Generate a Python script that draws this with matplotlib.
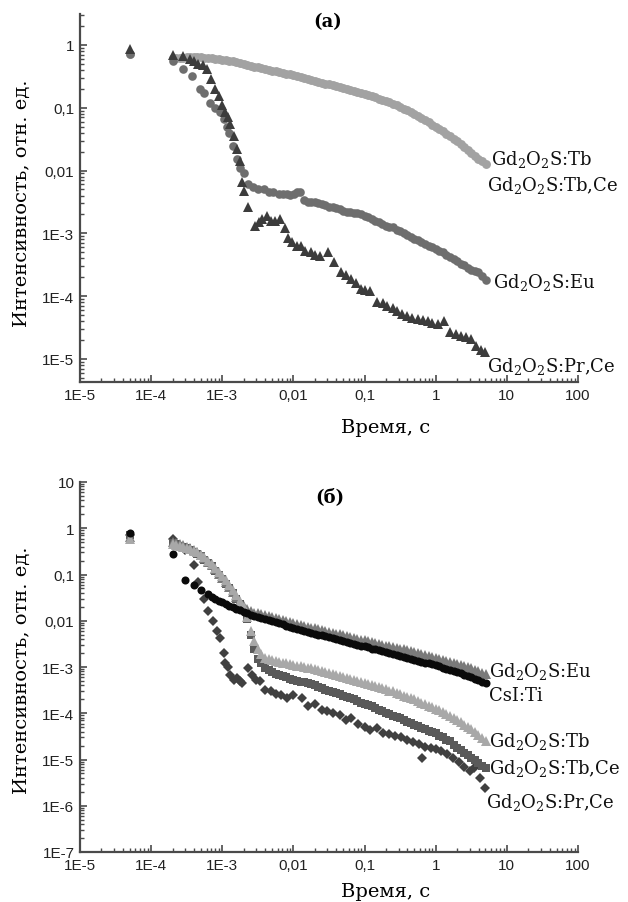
import numpy as np
import matplotlib
matplotlib.use("Agg")
import matplotlib.pyplot as plt
from matplotlib.ticker import LogLocator, NullFormatter

plt.rcParams['mathtext.fontset'] = 'dejavuserif'

# common sampling times of the dense parts of the decay curves, s
t_grid = [2.0e-4, 2.24e-4, 2.51e-4, 2.82e-4, 3.16e-4, 3.55e-4, 3.98e-4, 4.47e-4, 5.01e-4, 5.62e-4,
          6.31e-4, 7.08e-4, 7.94e-4, 8.91e-4,
          1.0e-3, 1.12e-3, 1.26e-3, 1.41e-3, 1.58e-3, 1.78e-3, 2.0e-3, 2.24e-3, 2.51e-3, 2.82e-3,
          3.16e-3, 3.55e-3, 3.98e-3, 4.47e-3, 5.01e-3, 5.62e-3, 6.31e-3, 7.08e-3, 7.94e-3, 8.91e-3,
          1.0e-2, 1.12e-2, 1.26e-2, 1.41e-2, 1.58e-2, 1.78e-2, 2.0e-2, 2.24e-2, 2.51e-2, 2.82e-2,
          3.16e-2, 3.55e-2, 3.98e-2, 4.47e-2, 5.01e-2, 5.62e-2, 6.31e-2, 7.08e-2, 7.94e-2, 8.91e-2,
          0.1, 0.112, 0.126, 0.141, 0.158, 0.178, 0.2, 0.224, 0.251, 0.282,
          0.316, 0.355, 0.398, 0.447, 0.501, 0.562, 0.631, 0.708, 0.794, 0.891,
          1.0, 1.12, 1.26, 1.41, 1.58, 1.78, 2.0, 2.24, 2.51, 2.82, 3.16, 3.55, 3.98, 4.47, 5.01]

# ---------------- panel (a) data ----------------
# Gd2O2S:Tb  (first point at 5e-5 s, then t_grid)
a_tb_x0 = [5e-5]
a_tb_y = [0.72,
          0.62, 0.62, 0.62, 0.625, 0.63, 0.63, 0.63, 0.63, 0.63, 0.625, 0.62, 0.61, 0.60, 0.59,
          0.58, 0.57, 0.56, 0.545, 0.53, 0.51, 0.49, 0.475, 0.46, 0.45,
          0.44, 0.425, 0.41, 0.40, 0.39, 0.38, 0.37, 0.36, 0.35, 0.34,
          0.33, 0.32, 0.31, 0.30, 0.29, 0.28, 0.27, 0.26, 0.25, 0.242,
          0.235, 0.227, 0.22, 0.212, 0.205, 0.197, 0.19, 0.182, 0.175, 0.17,
          0.165, 0.158, 0.152, 0.146, 0.14, 0.133, 0.127, 0.121, 0.115, 0.109,
          0.103, 0.097, 0.091, 0.085, 0.080, 0.074, 0.069, 0.064, 0.059, 0.054,
          0.050, 0.046, 0.042, 0.038, 0.035, 0.032, 0.029, 0.026, 0.024, 0.021, 0.019, 0.017, 0.0155, 0.014, 0.0127]

# Gd2O2S:Eu  (irregular early points, then t_grid from 0.0141 s)
a_eu_x0 = [5e-5, 2.0e-4, 2.8e-4, 3.8e-4, 4.9e-4, 5.6e-4, 6.7e-4, 7.8e-4, 9.3e-4, 1.05e-3, 1.15e-3,
           1.26e-3, 1.4e-3, 1.6e-3, 1.8e-3, 2.0e-3, 2.3e-3, 2.7e-3, 3.2e-3, 3.8e-3, 4.5e-3, 5.2e-3,
           6.3e-3, 7.1e-3, 8.0e-3, 9.0e-3, 1.02e-2, 1.14e-2, 1.24e-2]
a_eu_y = [0.72, 0.56, 0.41, 0.32, 0.20, 0.17, 0.12, 0.10, 0.085, 0.066, 0.05,
          0.040, 0.025, 0.015, 0.011, 0.009, 0.0062, 0.0055, 0.0050, 0.0050, 0.0045, 0.0046,
          0.0042, 0.0043, 0.0042, 0.0041, 0.0043, 0.0046, 0.0046,
          0.0034, 0.0031, 0.0032, 0.0031, 0.0030, 0.0029, 0.0028, 0.0026, 0.0026, 0.0025,
          0.0024, 0.0023, 0.0022, 0.0022, 0.0021, 0.0021, 0.0020,
          0.0019, 0.0018, 0.0017, 0.0016, 0.0015, 0.0014, 0.0013, 0.00128, 0.00125, 0.00115,
          0.00108, 0.0010, 0.00095, 0.00088, 0.00082, 0.00077, 0.00072, 0.00068, 0.00064, 0.00060,
          0.00057, 0.00053, 0.00050, 0.00046, 0.00042, 0.00039, 0.00036, 0.00033, 0.00031, 0.00028,
          0.00026, 0.00025, 0.00024, 0.00021, 0.00018]

# Gd2O2S:Pr,Ce
a_pr_x = [5e-5, 2.0e-4, 2.8e-4, 3.5e-4, 4.0e-4, 4.6e-4, 5.3e-4, 6.0e-4, 7.0e-4, 8.0e-4, 9.0e-4,
          1.0e-3, 1.1e-3, 1.2e-3, 1.3e-3, 1.45e-3, 1.6e-3, 1.75e-3, 1.9e-3, 2.05e-3, 2.3e-3, 2.9e-3,
          3.3e-3, 3.6e-3, 4.2e-3, 4.8e-3, 5.5e-3, 6.5e-3, 7.5e-3, 8.5e-3, 9.5e-3, 0.0113, 0.0126,
          0.0145, 0.0174, 0.02, 0.024, 0.031, 0.037, 0.046, 0.055, 0.064, 0.075, 0.088, 0.1, 0.12,
          0.15, 0.18, 0.21, 0.25, 0.29, 0.34, 0.40, 0.47, 0.56, 0.66, 0.77, 0.9, 1.07, 1.3, 1.6,
          1.9, 2.3, 2.7, 3.1, 3.7, 4.3, 5.0]
a_pr_y = [0.85, 0.68, 0.67, 0.60, 0.56, 0.50, 0.47, 0.42, 0.29, 0.20, 0.155,
          0.11, 0.085, 0.07, 0.055, 0.035, 0.022, 0.014, 0.0065, 0.0048, 0.0026, 0.0013,
          0.0015, 0.0017, 0.0019, 0.0016, 0.0016, 0.0017, 0.0012, 0.00085, 0.00072, 0.00062, 0.00063,
          0.00052, 0.00050, 0.00046, 0.00044, 0.00050, 0.00035, 0.00024, 0.00022, 0.00019, 0.00016, 0.00013, 0.000125, 0.00012,
          0.000081, 0.000078, 0.000070, 0.000064, 0.000058, 0.000052, 0.000048, 0.000045, 0.000043, 0.000041, 0.000040, 0.000038, 0.000036, 0.000040, 0.000027,
          0.000025, 0.000023, 0.000022, 0.000021, 0.000016, 0.000014, 0.000013]

# ---------------- panel (б) data ----------------
# CsI:Ti  (early points, then t_grid from 6.31e-4 s)
b_cs_x0 = [5e-5, 2.0e-4, 3.0e-4, 4.0e-4, 5.0e-4]
b_cs_y = [0.78, 0.28, 0.076, 0.058, 0.046,
          0.037, 0.033, 0.030, 0.027,
          0.025, 0.023, 0.021, 0.0195, 0.018, 0.0167, 0.0155, 0.0145, 0.0135, 0.0127,
          0.012, 0.0115, 0.011, 0.0104, 0.0098, 0.0093, 0.0088, 0.0083, 0.0078, 0.0074,
          0.0070, 0.0066, 0.0063, 0.0060, 0.0057, 0.0054, 0.0052, 0.0050, 0.0048, 0.0046,
          0.0044, 0.0042, 0.0040, 0.0038, 0.0036, 0.00345, 0.0033, 0.00315, 0.0030, 0.0029,
          0.0028, 0.00265, 0.0025, 0.0024, 0.0023, 0.0022, 0.0021, 0.0020, 0.0019, 0.00182,
          0.00175, 0.00167, 0.0016, 0.00152, 0.00145, 0.00137, 0.0013, 0.00125, 0.0012, 0.00115,
          0.0011, 0.00103, 0.00097, 0.00092, 0.00088, 0.00083, 0.00078, 0.00073, 0.00068, 0.00064,
          0.0006, 0.00056, 0.00052, 0.00048, 0.00045]

# Gd2O2S:Eu  (5e-5 s, then t_grid)
b_eu_x0 = [5e-5]
b_eu_y = [0.65,
          0.50, 0.48, 0.45, 0.43, 0.40, 0.37, 0.34, 0.30, 0.27, 0.23, 0.19, 0.16, 0.13, 0.105,
          0.085, 0.068, 0.054, 0.042, 0.033, 0.026, 0.021, 0.018, 0.016, 0.015,
          0.0145, 0.0137, 0.013, 0.0125, 0.012, 0.0115, 0.011, 0.0104, 0.0098, 0.0093,
          0.0089, 0.0085, 0.0081, 0.0077, 0.0074, 0.0071, 0.0068, 0.0065, 0.0063, 0.0060,
          0.0058, 0.0055, 0.0053, 0.0051, 0.0049, 0.0047, 0.0045, 0.0043, 0.0041, 0.0039,
          0.0038, 0.0036, 0.0035, 0.0033, 0.0032, 0.0030, 0.0029, 0.0028, 0.0027, 0.0026,
          0.0025, 0.0024, 0.0023, 0.0022, 0.0021, 0.0020, 0.0019, 0.0018, 0.0017, 0.00165,
          0.0016, 0.00152, 0.00145, 0.00137, 0.0013, 0.00124, 0.00118, 0.00111, 0.00105, 0.00099,
          0.00093, 0.00087, 0.00082, 0.00076, 0.0007]

# Gd2O2S:Tb
b_tb_x0 = [5e-5]
b_tb_y = [0.60,
          0.45, 0.44, 0.42, 0.40, 0.38, 0.355, 0.33, 0.30, 0.27, 0.235, 0.20, 0.17, 0.14, 0.115,
          0.095, 0.075, 0.060, 0.047, 0.036, 0.027, 0.020, 0.012, 0.006, 0.0036,
          0.0024, 0.0019, 0.0016, 0.0015, 0.0014, 0.00135, 0.0013, 0.00125, 0.0012, 0.00115,
          0.0011, 0.00107, 0.00105, 0.00101, 0.00097, 0.00094, 0.0009, 0.00087, 0.00083, 0.00079,
          0.00075, 0.00072, 0.00068, 0.00064, 0.00061, 0.00058, 0.00055, 0.00052, 0.0005, 0.00047,
          0.00045, 0.00043, 0.00041, 0.00039, 0.00037, 0.00035, 0.00033, 0.00031, 0.0003, 0.00028,
          0.00026, 0.00024, 0.00023, 0.00021, 0.0002, 0.000185, 0.00017, 0.000158, 0.000145, 0.000135,
          0.000125, 0.000115, 0.000105, 0.000096, 0.000088, 0.00008, 0.000072, 0.000064, 0.000057, 0.000051,
          0.000045, 0.000039, 0.000034, 0.000029, 0.000025]

# Gd2O2S:Tb,Ce
b_tbce_x0 = [5e-5]
b_tbce_y = [0.70,
            0.48, 0.45, 0.42, 0.40, 0.37, 0.34, 0.31, 0.28, 0.25, 0.21, 0.18, 0.15, 0.12, 0.10,
            0.080, 0.063, 0.050, 0.039, 0.030, 0.023, 0.017, 0.011, 0.005, 0.0025,
            0.0015, 0.0012, 0.00095, 0.00085, 0.00078, 0.00072, 0.00067, 0.00063, 0.0006, 0.00056,
            0.00052, 0.0005, 0.00048, 0.00047, 0.00045, 0.00042, 0.0004, 0.00037, 0.00035, 0.00032,
            0.0003, 0.00029, 0.00028, 0.00026, 0.00024, 0.00022, 0.00021, 0.0002, 0.00018, 0.00017,
            0.00016, 0.00015, 0.00014, 0.00013, 0.00012, 0.00011, 0.0001, 0.000094, 0.000088, 0.000083,
            0.000078, 0.000072, 0.000066, 0.000061, 0.000056, 0.000052, 0.000048, 0.000045, 0.000042, 0.00004,
            0.000037, 0.000033, 0.00003, 0.000027, 0.000025, 0.000021, 0.000018, 0.000016, 0.000014, 0.0000125,
            0.000011, 0.0000097, 0.0000085, 0.0000074, 0.0000064]

# Gd2O2S:Pr,Ce
b_pr_x = [5e-5, 2.0e-4, 3.0e-4, 4.0e-4, 4.6e-4, 5.5e-4, 6.3e-4, 7.4e-4, 8.5e-4, 9.4e-4, 1.05e-3,
          1.1e-3, 1.2e-3, 1.3e-3, 1.45e-3, 1.6e-3, 1.75e-3, 1.9e-3, 2.3e-3, 2.6e-3, 3.0e-3, 3.4e-3,
          4.0e-3, 4.8e-3, 5.6e-3, 6.6e-3, 8.0e-3, 1.0e-2, 1.3e-2, 1.6e-2, 2.0e-2, 2.5e-2, 3.0e-2,
          3.6e-2, 4.5e-2, 5.5e-2, 6.5e-2, 8.0e-2, 0.1, 0.12, 0.15, 0.18, 0.22, 0.27, 0.33, 0.4,
          0.48, 0.58, 0.65, 0.7, 0.85, 1.0, 1.2, 1.45, 1.75, 2.1, 2.5, 3.0, 3.5, 4.2, 5.0]
b_pr_y = [0.70, 0.60, 0.34, 0.16, 0.07, 0.030, 0.016, 0.0097, 0.0060, 0.0042, 0.0020,
          0.0012, 0.0010, 0.00068, 0.00053, 0.00058, 0.00050, 0.00045, 0.00095, 0.00068, 0.00053, 0.00050,
          0.00032, 0.00030, 0.00026, 0.00025, 0.00021, 0.00025, 0.00021, 0.00014, 0.00016, 0.00012, 0.00011,
          0.00010, 0.000090, 0.000070, 0.000080, 0.000060, 0.000050, 0.000044, 0.000048, 0.000038, 0.000036, 0.000033, 0.000030, 0.000026,
          0.000024, 0.000022, 0.000011, 0.000019, 0.000018, 0.000017, 0.000015, 0.000013, 0.000011, 0.0000090, 0.0000070, 0.0000056, 0.0000065, 0.0000040, 0.0000024]

# tick labels
x_ticks = [1e-5, 1e-4, 1e-3, 1e-2, 1e-1, 1, 10, 100]
x_labels = ['1E-5', '1E-4', '1E-3', '0,01', '0,1', '1', '10', '100']
a_y_ticks = [1e-5, 1e-4, 1e-3, 1e-2, 1e-1, 1]
a_y_labels = ['1E-5', '1E-4', '1E-3', '0,01', '0,1', '1']
b_y_ticks = [1e-7, 1e-6, 1e-5, 1e-4, 1e-3, 1e-2, 1e-1, 1, 10]
b_y_labels = ['1E-7', '1E-6', '1E-5', '1E-4', '1E-3', '0,01', '0,1', '1', '10']

# assemble x arrays (early points + the shared grid)
a_tb_x = a_tb_x0 + t_grid
a_eu_x = a_eu_x0 + t_grid[37:]
b_cs_x = b_cs_x0 + t_grid[10:]
b_eu_x = b_eu_x0 + t_grid
b_tb_x = b_tb_x0 + t_grid
b_tbce_x = b_tbce_x0 + t_grid

SERIF = 'DejaVu Serif'
SANS = 'Liberation Sans'
SPINE = '#4a4a4a'

fig = plt.figure(figsize=(6.28, 9.03), dpi=100)
W, H = 628.0, 903.0
ax_a = fig.add_axes([80 / W, 1 - 383 / H, 498 / W, 368 / H])
ax_b = fig.add_axes([80 / W, 1 - 853 / H, 498 / W, 370 / H])


def style(ax, yt, yl, ylim):
    ax.set_xscale('log')
    ax.set_yscale('log')
    ax.set_xlim(1e-5, 100)
    ax.set_ylim(*ylim)
    for s in ('top', 'right'):
        ax.spines[s].set_visible(False)
    for s in ('left', 'bottom'):
        ax.spines[s].set_color(SPINE)
        ax.spines[s].set_linewidth(1.6)
    ax.set_xticks(x_ticks)
    ax.set_xticklabels(x_labels)
    ax.set_yticks(yt)
    ax.set_yticklabels(yl)
    ax.xaxis.set_minor_locator(LogLocator(base=10, subs=np.arange(2, 10), numticks=100))
    ax.yaxis.set_minor_locator(LogLocator(base=10, subs=np.arange(2, 10), numticks=100))
    ax.xaxis.set_minor_formatter(NullFormatter())
    ax.yaxis.set_minor_formatter(NullFormatter())
    ax.tick_params(which='major', direction='in', length=5, width=1.2, color=SPINE,
                   labelsize=11, pad=4)
    ax.tick_params(which='minor', direction='in', length=3, width=1.0, color=SPINE)
    for lab in ax.get_xticklabels() + ax.get_yticklabels():
        lab.set_fontfamily(SANS)
        lab.set_color('#222222')
    ax.set_facecolor('none')


# panel (a)
ax_a.plot(a_tb_x, a_tb_y, 'o', ms=6.4, mew=0, color='#a2a2a2')
ax_a.plot(a_eu_x, a_eu_y, 'o', ms=6.2, mew=0, color='#6e6e6e')
ax_a.plot(a_pr_x, a_pr_y, '^', ms=7.5, mew=0, color='#3c3c3c')
style(ax_a, a_y_ticks, a_y_labels, (4.3e-6, 3.1))

lab_kw = dict(fontfamily=SERIF, fontsize=13, color='#111111', va='center', ha='left')
ax_a.text(5.9, 0.0153, r'Gd$_2$O$_2$S:Tb', **lab_kw)
ax_a.text(5.3, 0.0059, r'Gd$_2$O$_2$S:Tb,Ce', **lab_kw)
ax_a.text(6.4, 1.7e-4, r'Gd$_2$O$_2$S:Eu', **lab_kw)
ax_a.text(5.3, 7.8e-6, r'Gd$_2$O$_2$S:Pr,Ce', **lab_kw)

# panel (б)
ax_b.plot(b_pr_x, b_pr_y, 'D', ms=5.6, mew=0, color='#404040')
ax_b.plot(b_tbce_x, b_tbce_y, 's', ms=5.4, mew=0, color='#5a5a5a')
ax_b.plot(b_eu_x, b_eu_y, '^', ms=6.8, mew=0, color='#7a7a7a')
ax_b.plot(b_tb_x, b_tb_y, '^', ms=6.8, mew=0, color='#a8a8a8')
ax_b.plot(b_cs_x, b_cs_y, 'o', ms=5.8, mew=0, color='#0a0a0a')
style(ax_b, b_y_ticks, b_y_labels, (1e-7, 10))

ax_b.text(5.6, 8.5e-4, r'Gd$_2$O$_2$S:Eu', **lab_kw)
ax_b.text(5.6, 2.5e-4, r'CsI:Ti', **lab_kw)
ax_b.text(5.6, 2.6e-5, r'Gd$_2$O$_2$S:Tb', **lab_kw)
ax_b.text(5.7, 6.6e-6, r'Gd$_2$O$_2$S:Tb,Ce', **lab_kw)
ax_b.text(5.1, 1.26e-6, r'Gd$_2$O$_2$S:Pr,Ce', **lab_kw)

# titles and axis labels
fig.text(328 / W, 1 - 22 / H, '(а)', fontfamily=SERIF, fontsize=13, fontweight='bold',
         ha='center', va='center')
fig.text(330 / W, 1 - 497 / H, '(б)', fontfamily=SERIF, fontsize=13, fontweight='bold',
         ha='center', va='center')
fig.text(22 / W, 1 - 203 / H, 'Интенсивность, отн. ед.', fontfamily=SERIF, fontsize=14,
         rotation=90, ha='center', va='center')
fig.text(22 / W, 1 - 670 / H, 'Интенсивность, отн. ед.', fontfamily=SERIF, fontsize=14,
         rotation=90, ha='center', va='center')
fig.text(386 / W, 1 - 428 / H, 'Время, с', fontfamily=SERIF, fontsize=14,
         ha='center', va='center')
fig.text(386 / W, 1 - 892 / H, 'Время, с', fontfamily=SERIF, fontsize=14,
         ha='center', va='center')

fig.savefig('out.png', dpi=100, facecolor='white')
